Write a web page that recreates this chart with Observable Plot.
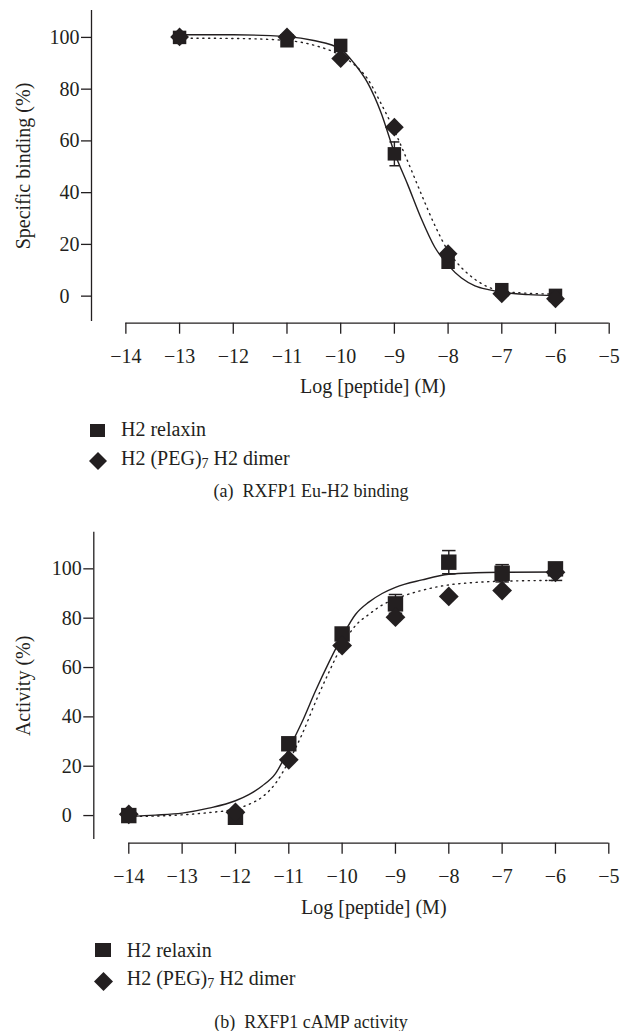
<!DOCTYPE html>
<html>
<head>
<meta charset="utf-8">
<script src="https://cdn.jsdelivr.net/npm/d3@7"></script>
<script src="https://cdn.jsdelivr.net/npm/@observablehq/plot@0.6"></script>
<style>
  html, body { margin: 0; padding: 0; background: #fff; }
  body { font-family: "Liberation Serif", "Times New Roman", serif; color: #231f20; }
  #page { position: relative; width: 622px; height: 1031px; overflow: hidden; }
  .panel { position: absolute; left: 0; }
  .leg { position: absolute; font-size: 20px; line-height: 20px; white-space: nowrap; }
  .leg sub { font-size: 14px; vertical-align: -3px; line-height: 0; }
  .mk { position: absolute; overflow: visible; }
  .cap { position: absolute; left: 0; width: 622px; text-align: center; font-size: 18px; line-height: 18px; white-space: nowrap; }
</style>
</head>
<body>
<div id="page"></div>
<script>
// ---------- shared labels / ticks ----------
const xTicks = [-14, -13, -12, -11, -10, -9, -8, -7, -6, -5];
const yTicks = [0, 20, 40, 60, 80, 100];
const xLabel = "Log [peptide] (M)";
const seriesNames = ["H2 relaxin", "H2 (PEG)", "7", " H2 dimer"];

// ---------- panel (a): RXFP1 Eu-H2 binding ----------
const bindTitle = "(a)\u00a0\u00a0RXFP1 Eu-H2 binding";
const bindYLabel = "Specific binding (%)";
const bindDose = [-13, -11, -10, -9, -8, -7, -6];
const bindRelaxin = [100, 98.7, 96.9, 55.0, 13.1, 2.5, 0.3];
const bindRelaxinErr = [0, 0, 0, 4.6, 0, 0, 0];
const bindDimer = [100.2, 100.2, 91.8, 65.3, 16.4, 0.9, -1.0];
const bindDimerErr = [0, 0, 0, 0, 0, 0, 0];
const bindFitDose = [-13, -12, -11, -10.5, -10, -9.75, -9.5, -9.25, -9, -8.75, -8.5, -8.25, -8, -7.75, -7.5, -7.25, -7, -6.5, -6];
const bindFitRelaxin = [101, 101, 100.3, 98.8, 95.5, 90, 82.5, 71, 55.5, 43, 30, 19, 12, 7, 4, 2.5, 1.5, 0.6, 0.3];
const bindFitDimer = [99.7, 99.6, 98.8, 97, 93, 89.5, 84, 74.5, 64, 52, 39.5, 27.5, 17.5, 11, 6.5, 3.5, 2, 1.1, 0.8];

// ---------- panel (b): RXFP1 cAMP activity ----------
const actTitle = "(b)\u00a0\u00a0RXFP1 cAMP activity";
const actYLabel = "Activity (%)";
const actDose = [-14, -12, -11, -10, -9, -8, -7, -6];
const actRelaxin = [0, -0.7, 29.1, 73.6, 85.8, 102.7, 98.2, 100];
const actRelaxinErr = [0, 0, 0, 0, 3.8, 4.7, 3.5, 0];
const actDimer = [0.5, 1.3, 22.6, 68.9, 80.4, 88.8, 91.2, 98.6];
const actDimerErr = [0, 0, 0, 0, 0, 0, 0, 3.3];
const actFitDose = [-14, -13.5, -13, -12.5, -12, -11.75, -11.5, -11.25, -11, -10.75, -10.5, -10.25, -10, -9.75, -9.5, -9.25, -9, -8.5, -8, -7.5, -7, -6];
const actFitRelaxin = [-0.3, 0.2, 1.0, 3.0, 6.0, 8.5, 12, 17, 27, 38, 50.5, 62, 72.5, 81.5, 86.5, 90, 92.5, 95.5, 97.8, 98.4, 98.6, 98.7];
const actFitDimer = [-0.4, -0.2, 0.3, 1.2, 2.7, 4.5, 7.5, 13, 22, 33, 46, 58, 69, 77, 81.5, 85.3, 87.8, 91.3, 93.5, 94.5, 95, 95.3];

// ---------- drawing ----------
const ink = "#231f20";
const diamond = {
  draw(ctx, size) {
    const h = Math.sqrt(size / 2);
    ctx.moveTo(0, -h); ctx.lineTo(h, 0); ctx.lineTo(0, h); ctx.lineTo(-h, 0); ctx.closePath();
  }
};
const capSym = {
  draw(ctx, size) {
    const w = Math.sqrt(size) / 2;
    ctx.moveTo(-w, 0); ctx.lineTo(w, 0);
  }
};

function panel(cfg) {
  const pts = (xs, ys, es) => xs.map((x, i) => ({x, y: ys[i], e: es ? es[i] : 0}));
  const rel = pts(cfg.dose, cfg.relaxin, cfg.relaxinErr);
  const dim = pts(cfg.dose, cfg.dimer, cfg.dimerErr);
  const fitR = pts(cfg.fitDose, cfg.fitRelaxin);
  const fitD = pts(cfg.fitDose, cfg.fitDimer);
  const errs = [...rel, ...dim].filter(d => d.e > 0);
  return Plot.plot({
    width: 622,
    height: cfg.height,
    marginTop: cfg.mt, marginBottom: cfg.mb, marginLeft: cfg.ml, marginRight: cfg.mr,
    x: {domain: cfg.xDomain},
    y: {domain: cfg.yDomain},
    style: {fontFamily: "'Liberation Serif', 'Times New Roman', serif", fontSize: "20px", color: ink, background: "transparent", overflow: "visible"},
    marks: [
      Plot.ruleX([cfg.xDomain[0]], {stroke: ink, strokeWidth: 1.3}),
      Plot.ruleY([cfg.yDomain[0]], {x1: xTicks[0], x2: xTicks[xTicks.length - 1], dy: cfg.gap, stroke: ink, strokeWidth: 1.3}),
      Plot.axisY({ticks: yTicks, tickSize: 10, tickPadding: 2, tickFormat: d => d === 0 ? "0\u2007" : String(d), label: null, strokeWidth: 1.3}),
      Plot.axisX({ticks: xTicks, tickSize: 11, tickPadding: 15, tickFormat: d => "\u2212" + Math.abs(d), label: null, dy: cfg.gap, strokeWidth: 1.3}),
      Plot.text([xLabel], {text: d => d, frameAnchor: "bottom", textAnchor: "middle", dx: 22.5, dy: cfg.xLabelDy, lineAnchor: "middle", fill: ink}),
      Plot.text([cfg.yLabel], {text: d => d, frameAnchor: "left", textAnchor: "middle", rotate: -90, dx: cfg.yLabelDx, lineAnchor: "middle", fill: ink}),
      Plot.line(fitR, {x: "x", y: "y", curve: "monotone-x", stroke: ink, strokeWidth: 1.4}),
      Plot.line(fitD, {x: "x", y: "y", curve: "monotone-x", stroke: ink, strokeWidth: 1.4, strokeDasharray: "1.2,4.6"}),
      Plot.ruleX(errs, {x: "x", y1: d => d.y - d.e, y2: d => d.y + d.e, stroke: ink, strokeWidth: 1.4}),
      Plot.dot(errs, {x: "x", y: d => d.y + d.e, symbol: capSym, r: cfg.capR, stroke: ink, strokeWidth: 1.5, fill: "none"}),
      Plot.dot(errs, {x: "x", y: d => d.y - d.e, symbol: capSym, r: cfg.capR, stroke: ink, strokeWidth: 1.5, fill: "none"}),
      Plot.dot(rel, {x: "x", y: "y", symbol: "square", r: cfg.sqR, fill: ink, stroke: "none"}),
      Plot.dot(dim, {x: "x", y: "y", symbol: diamond, r: cfg.diR, fill: ink, stroke: "none"})
    ]
  });
}

const page = document.getElementById("page");

function addPanel(top, svg) {
  svg.classList.add("panel");
  svg.style.position = "absolute";
  svg.style.top = top + "px";
  svg.style.left = "0px";
  page.appendChild(svg);
}

function addLegend(cfg) {
  // square row
  const s = document.createElementNS("http://www.w3.org/2000/svg", "svg");
  s.setAttribute("class", "mk");
  s.setAttribute("width", cfg.sqW); s.setAttribute("height", cfg.sqH);
  s.style.left = (cfg.mx - cfg.sqW / 2) + "px";
  s.style.top = (cfg.sqY - cfg.sqH / 2) + "px";
  s.innerHTML = `<rect x="0" y="0" width="${cfg.sqW}" height="${cfg.sqH}" fill="${ink}"/>`;
  page.appendChild(s);
  const t1 = document.createElement("div");
  t1.className = "leg";
  t1.style.left = cfg.tx + "px";
  t1.style.top = (cfg.b1 - 16.75) + "px";
  t1.textContent = seriesNames[0];
  page.appendChild(t1);
  // diamond row
  const d = document.createElementNS("http://www.w3.org/2000/svg", "svg");
  d.setAttribute("class", "mk");
  const h = cfg.diH;
  d.setAttribute("width", 2 * h); d.setAttribute("height", 2 * h);
  d.style.left = (cfg.mx - h) + "px";
  d.style.top = (cfg.diY - h) + "px";
  d.innerHTML = `<path d="M${h},0L${2 * h},${h}L${h},${2 * h}L0,${h}Z" fill="${ink}"/>`;
  page.appendChild(d);
  const t2 = document.createElement("div");
  t2.className = "leg";
  t2.style.left = cfg.tx + "px";
  t2.style.top = (cfg.b2 - 16.75) + "px";
  t2.append(seriesNames[1]);
  const sub = document.createElement("sub");
  sub.textContent = seriesNames[2];
  t2.append(sub);
  t2.append(seriesNames[3]);
  page.appendChild(t2);
  // caption
  const c = document.createElement("div");
  c.className = "cap";
  c.style.top = (cfg.capBase - 15) + "px";
  c.textContent = cfg.caption;
  page.appendChild(c);
}

addPanel(0, panel({
  height: 400, mt: 10, mb: 79, ml: 91, mr: 13.3,
  xDomain: [-14.64, -5], yDomain: [-9.8, 110.4],
  gap: 1.7, xLabelDy: 65.3, yLabelDx: -68.3,
  yLabel: bindYLabel,
  dose: bindDose, relaxin: bindRelaxin, relaxinErr: bindRelaxinErr,
  dimer: bindDimer, dimerErr: bindDimerErr,
  fitDose: bindFitDose, fitRelaxin: bindFitRelaxin, fitDimer: bindFitDimer,
  sqR: 7.6, diR: 7.5, capR: 5.6
}));
addLegend({mx: 97.5, sqW: 15, sqH: 13, sqY: 430.3, diH: 9, diY: 460.8, tx: 121, b1: 436, b2: 465, capBase: 496.7, caption: bindTitle});

addPanel(520, panel({
  height: 400, mt: 11.7, mb: 81, ml: 93.3, mr: 13.7,
  xDomain: [-14.656, -5], yDomain: [-9.7, 114.85],
  gap: 3.7, xLabelDy: 67.9, yLabelDx: -70,
  yLabel: actYLabel,
  dose: actDose, relaxin: actRelaxin, relaxinErr: actRelaxinErr,
  dimer: actDimer, dimerErr: actDimerErr,
  fitDose: actFitDose, fitRelaxin: actFitRelaxin, fitDimer: actFitDimer,
  sqR: 8.7, diR: 7.9, capR: 7.6
}));
addLegend({mx: 103.3, sqW: 16, sqH: 14, sqY: 950.3, diH: 9.5, diY: 981.7, tx: 126.7, b1: 956.7, b2: 985, capBase: 1028, caption: actTitle});
</script>
</body>
</html>
